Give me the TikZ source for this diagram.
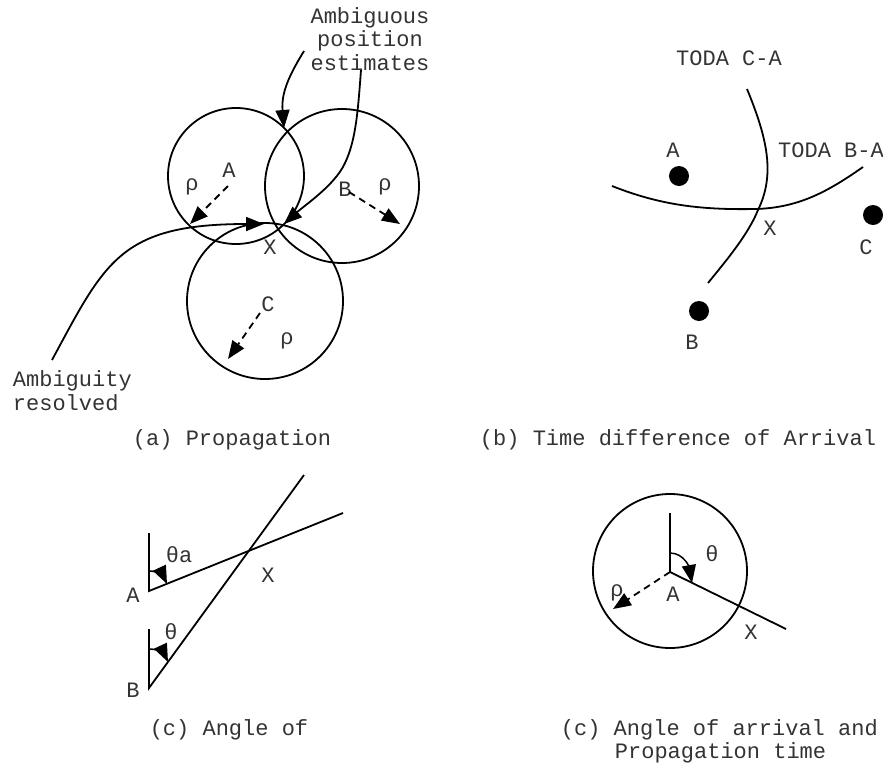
\documentclass[tikz,border=0pt]{standalone}
\usepackage{fontspec}
\setmainfont{Liberation Mono}
\usetikzlibrary{arrows.meta}
\begin{document}
\begin{tikzpicture}[x=1pt,y=-1pt, line width=1.8pt,
  lbl/.style={inner sep=0pt, font=\fontsize{22}{23.5}\selectfont, text=black!80},
  tip/.style={-{Triangle[length=18pt,width=14pt]}},
  dsh/.style={dash pattern=on 7pt off 5pt},
  dotnode/.style={circle, fill=black, inner sep=0pt, minimum size=20pt},
]
\useasboundingbox (0,0) rectangle (883,766);

% ---------------- (a) Propagation ----------------
\coordinate (cA) at (236,176);
\coordinate (cB) at (342,186);
\coordinate (cC) at (265,301);
\draw (cA) circle[radius=68pt];
\draw (cB) circle[radius=77pt];
\draw (cC) circle[radius=78pt];

\node[lbl] (aA) at (229,170) {A};
\node[lbl] (aB) at (345,189) {B};
\node[lbl] (aC) at (268,304) {C};
\node[lbl] (aX) at (270,247) {X};
\node[lbl] (rA) at (192,187) {ρ};
\node[lbl] (rB) at (385,187) {ρ};
\node[lbl] (rC) at (287,341) {ρ};

\coordinate (dA1) at (228,186); \coordinate (dA2) at (190,224);
\coordinate (dB1) at (349,192); \coordinate (dB2) at (400,224);
\coordinate (dC1) at (260,313); \coordinate (dC2) at (228,359);
\draw[dsh,tip] (dA1) -- (dA2);
\draw[dsh,tip] (dB1) -- (dB2);
\draw[dsh,tip] (dC1) -- (dC2);

\node[lbl, align=center] (amb) at (370,39) {Ambiguous\\position\\estimates};
\coordinate (amb1) at (304,51);
\coordinate (amb2) at (361,70);
\coordinate (top) at (284,128);
\coordinate (bot) at (284,224);
\draw[tip] (amb1) .. controls (290,74) and (281,92) .. (top);
\draw[tip] (amb2) .. controls (358,110) and (356,140) .. (345,163)
  .. controls (335,185) and (305,205) .. (bot);

\node[lbl, align=left, anchor=north west] (res) at (12,370) {Ambiguity\\resolved};
\coordinate (res1) at (52,360);
\coordinate (res2) at (264,224);
\draw[tip] (res1) .. controls (105,262) and (120,224) .. (res2);

\node[lbl, anchor=base] (capa) at (232,445) {(a) Propagation};

% ---------------- (b) TDOA ----------------
\node[lbl] (todaCA) at (729,58) {TODA C-A};
\node[lbl] (todaBA) at (831,150) {TODA B-A};
\draw (747,89) .. controls (768,140) and (775,175) .. (758,210)
  .. controls (748,235) and (725,262) .. (708,283);
\draw (612,186) .. controls (660,205) and (700,210) .. (755,209)
  .. controls (800,208) and (830,190) .. (863,167);
\node[dotnode] (dotA) at (679,176) {};
\node[dotnode] (dotB) at (699,311) {};
\node[dotnode] (dotC) at (873,215) {};
\node[lbl] (bA) at (673,150) {A};
\node[lbl] (bB) at (692,342) {B};
\node[lbl] (bC) at (866,247) {C};
\node[lbl] (bX) at (770,228) {X};

\node[lbl, anchor=base] (capb) at (678,445) {(b) Time difference of Arrival};

% ---------------- (c) Angle of ----------------
\coordinate (pA) at (149,591);
\coordinate (pB) at (149,688);
\draw (149,533) -- (pA) -- (343,513);
\draw (149,629) -- (pB) -- (304,475);
\draw[tip, line width=1.5pt] (149,571) to[out=0,in=115] (167,584);
\draw[tip, line width=1.5pt] (149,649) to[out=0,in=115] (168,662);
\node[lbl] (cAl) at (133,595) {A};
\node[lbl] (cBl) at (133,690) {B};
\node[lbl] (tha) at (179,555) {θa};
\node[lbl] (thb) at (171,632) {θ};
\node[lbl] (cXl) at (268,575) {X};
\node[lbl, anchor=base] (capc) at (229,735) {(c) Angle of};

% ---------------- (c) Angle of arrival and propagation time ----------------
\coordinate (dA) at (670,572);
\draw (670,571) circle[radius=77pt];
\draw (670,513) -- (dA) -- (786,629);
\draw[tip, line width=1.5pt] (670,553) to[out=0,in=100] (692,583);
\draw[dsh,tip] (dA) -- (613,609);
\node[lbl] (dth) at (712,554) {θ};
\node[lbl] (drho) at (617,593) {ρ};
\node[lbl] (dAl) at (673,594) {A};
\node[lbl] (dXl) at (751,632) {X};
\node[lbl, anchor=base west] (capd) at (560,735) {(c) Angle of arrival and};
\node[lbl, anchor=base west] (capd2) at (614,758) {Propagation time};
\end{tikzpicture}
\end{document}
